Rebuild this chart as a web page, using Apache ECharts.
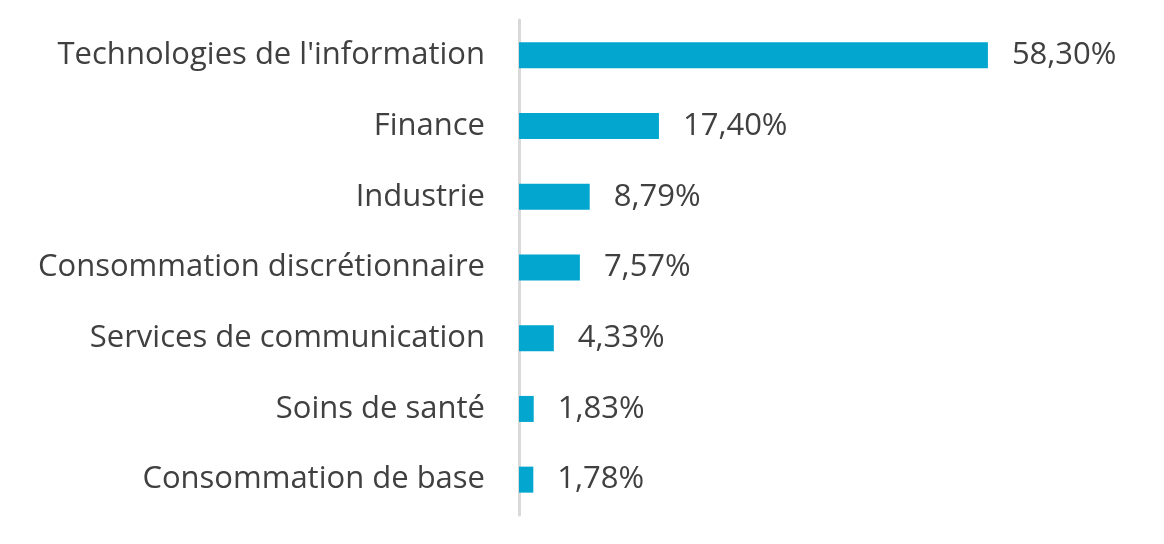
<!DOCTYPE html>
<html><head><meta charset="utf-8">
<script src="https://cdn.jsdelivr.net/npm/echarts@6/dist/echarts.min.js"></script>
<style>html,body{margin:0;padding:0;background:#fff}#c{width:1164px;height:544px}</style>
</head><body><div id="c"></div>
<script>
const categories = ["Technologies de l'information","Finance","Industrie","Consommation discrétionnaire","Services de communication","Soins de santé","Consommation de base"];
const values = [58.30,17.40,8.79,7.57,4.33,1.83,1.78];
const chart = echarts.init(document.getElementById('c'));
const FONT = '"Open Sans", sans-serif';
const ctx = document.createElement('canvas').getContext('2d');
ctx.font = '100px ' + FONT;
const w100 = ctx.measureText(categories[0]).width;
const FS = Math.round(100 * 429 / w100 * 2) / 2;
chart.setOption({
  animation:false,
  grid:{left:519,right:82,top:20,bottom:29},
  xAxis:{type:'value',min:0,max:70,show:false},
  yAxis:{type:'category',data:categories,inverse:true,
    axisLine:{show:true,lineStyle:{color:'#d9d9d9',width:3}},
    axisTick:{show:false},
    axisLabel:{color:'#404040',fontSize:FS,fontFamily:FONT,margin:34,padding:[4,0,0,0]}},
  series:[{type:'bar',data:values,barWidth:26,
    itemStyle:{color:'#02a6ce'},
    label:{show:true,position:'right',distance:24,color:'#404040',fontSize:FS,fontFamily:FONT,padding:[4,0,0,0],
      formatter:p=>p.value.toFixed(2).replace('.',',')+'%'}}]
});
</script></body></html>
